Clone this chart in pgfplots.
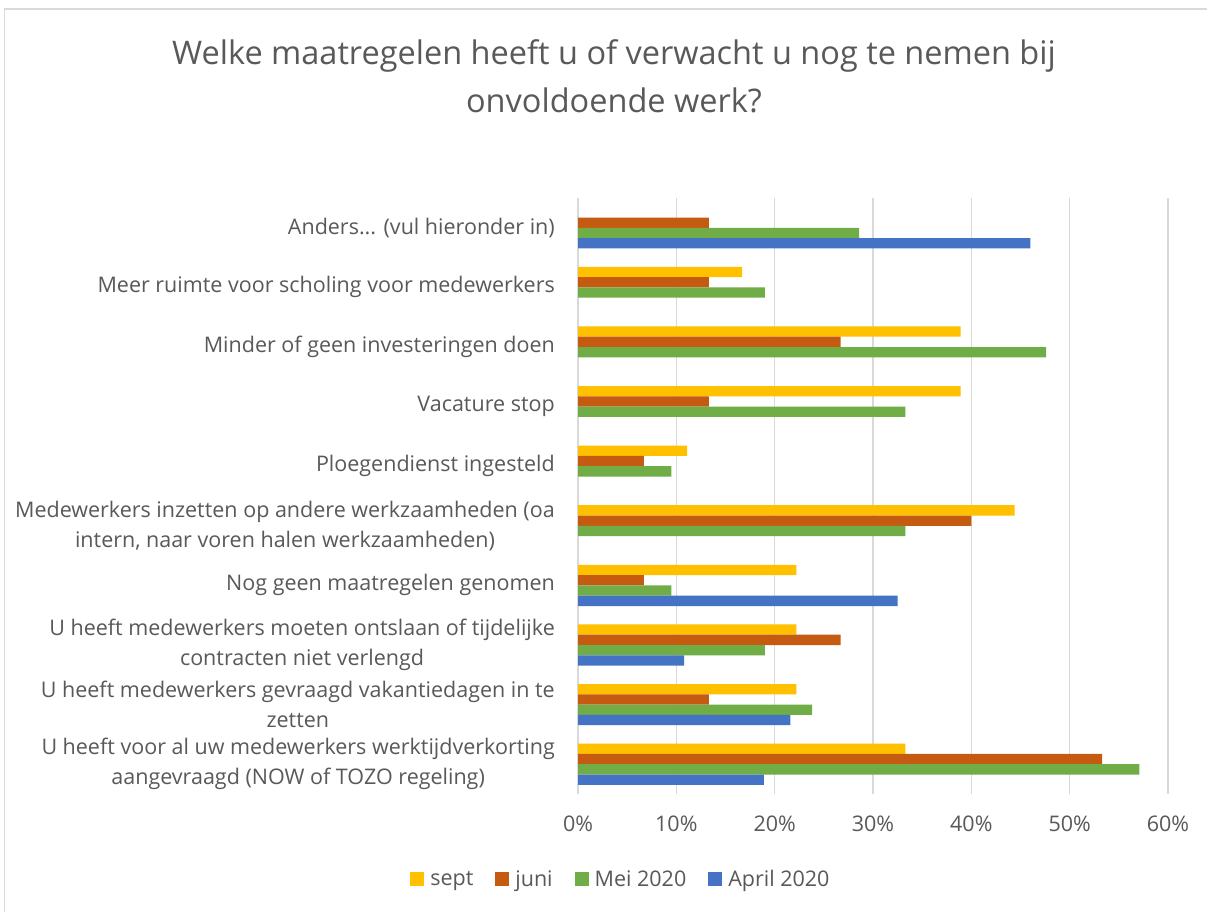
\documentclass[border=0pt]{standalone}
\usepackage{fontspec}
\setmainfont{Open Sans}
\usepackage{pgfplots}
\pgfplotsset{compat=1.18}
\definecolor{txt}{HTML}{595959}
\definecolor{gridc}{HTML}{D9D9D9}
\definecolor{csept}{HTML}{FFC000}
\definecolor{cjuni}{HTML}{C55A11}
\definecolor{cmei}{HTML}{70AD47}
\definecolor{capril}{HTML}{4472C4}
\begin{document}
\begin{tikzpicture}[x=1pt,y=1pt]
\useasboundingbox (0,0) rectangle (1207,911);
\fill[white] (0,0) rectangle (1207,911);
\draw[gridc, line width=1.5pt] (4.5,-5) -- (4.5,902) -- (1220,902);
\node[txt, font=\fontsize{32.5}{48}\selectfont, align=center] at (614,835) {Welke maatregelen heeft u of verwacht u nog te nemen bij\\onvoldoende werk?};
\begin{axis}[
  at={(578pt,117pt)}, anchor=south west,
  scale only axis, width=590pt, height=596pt,
  xmin=0, xmax=60, ymin=-0.5, ymax=9.5,
  y dir=reverse,
  xbar=0pt, bar width=10.3pt,
  axis line style={draw=none},
  major tick length=0pt,
  xmajorgrids, grid style={gridc, line width=1.5pt},
  xtick={0,10,20,30,40,50,60},
  xticklabels={0\%,10\%,20\%,30\%,40\%,50\%,60\%},
  xticklabel style={txt, font=\fontsize{21.5}{25}\selectfont, inner sep=0pt, anchor=north, yshift=-22pt},
  ytick={0,1,2,3,4,5,6,7,8,9},
  yticklabels={
    {Anders{.}{.}{.} (vul hieronder in)},
    {Meer ruimte voor scholing voor medewerkers},
    {Minder of geen investeringen doen},
    {Vacature stop},
    {Ploegendienst ingesteld},
    {Medewerkers inzetten op andere werkzaamheden (oa\\intern, naar voren halen werkzaamheden)},
    {Nog geen maatregelen genomen},
    {U heeft medewerkers moeten ontslaan of tijdelijke\\contracten niet verlengd},
    {U heeft medewerkers gevraagd vakantiedagen in te\\zetten},
    {U heeft voor al uw medewerkers werktijdverkorting\\aangevraagd (NOW of TOZO regeling)}
  },
  yticklabel style={txt, font=\fontsize{21.5}{30}\selectfont, align=center, inner sep=0pt, anchor=east, xshift=-23pt},
  legend style={at={(0.071,-0.1426)}, anchor=center, draw=none, fill=none,
    legend columns=-1, font=\fontsize{21.5}{25}\selectfont, text=txt,
    nodes={inner xsep=0pt},
    /tikz/every odd column/.append style={column sep=6pt},
    /tikz/every even column/.append style={column sep=22pt}},
  legend image code/.code={\path[#1, draw=none] (0pt,-7pt) rectangle (14pt,7pt);},
]
\addplot[fill=csept, draw=none, bar shift=15.45pt] coordinates {(16.7,1) (38.9,2) (38.9,3) (11.1,4) (44.4,5) (22.2,6) (22.2,7) (22.2,8) (33.3,9)};
\addplot[fill=cjuni, draw=none, bar shift=5.15pt] coordinates {(13.3,0) (13.3,1) (26.7,2) (13.3,3) (6.7,4) (40.0,5) (6.7,6) (26.7,7) (13.3,8) (53.3,9)};
\addplot[fill=cmei, draw=none, bar shift=-5.15pt] coordinates {(28.6,0) (19.0,1) (47.6,2) (33.3,3) (9.5,4) (33.3,5) (9.5,6) (19.0,7) (23.8,8) (57.1,9)};
\addplot[fill=capril, draw=none, bar shift=-15.45pt] coordinates {(46.0,0) (32.5,6) (10.8,7) (21.6,8) (18.9,9)};
\legend{sept, juni, Mei 2020, April 2020}
\end{axis}
\end{tikzpicture}
\end{document}
